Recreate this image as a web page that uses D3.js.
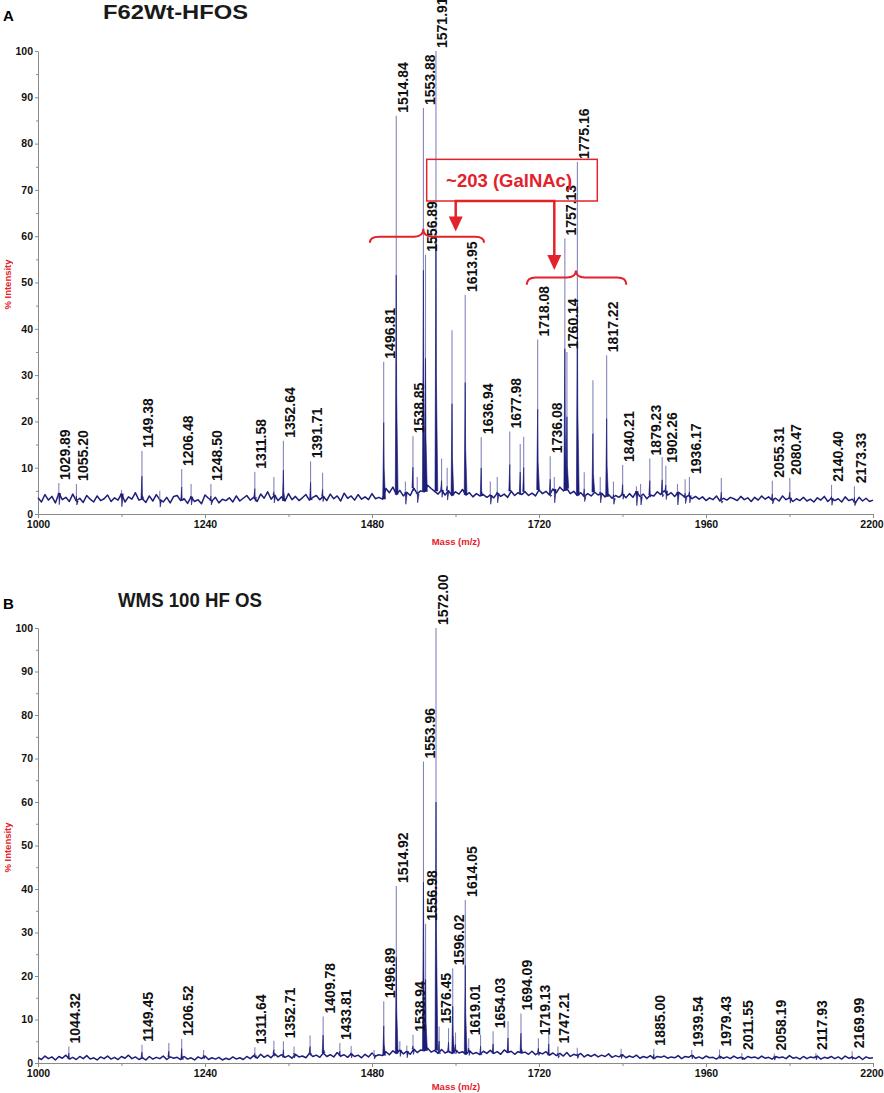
<!DOCTYPE html>
<html>
<head>
<meta charset="utf-8">
<script src="https://cdn.jsdelivr.net/npm/d3@7"></script>
<style>
body { margin: 0; background: #fff; }
text { font-family: "Liberation Sans", Arial, sans-serif; font-weight: bold; }
</style>
</head>
<body>
<script>
// axis ticks
const massTicks = [1000, 1240, 1480, 1720, 1960, 2200];
const massMinor = [1120, 1360, 1600, 1840, 2080];
const intensityTicks = [0, 10, 20, 30, 40, 50, 60, 70, 80, 90, 100];
const intensityMinor = [5, 15, 25, 35, 45, 55, 65, 75, 85, 95];

// baseline noise, read every 5 m/z from 1000 to 2200
const baseStart = 1000, baseStep = 5;
const baselineA = [
  3.5,2.6,4.2,3.0,3.8,2.4,4.5,3.1,3.6,2.7,
  4.3,2.8,3.4,2.5,4.0,3.2,2.6,3.9,2.9,3.3,
  4.1,2.7,3.5,3.0,4.4,2.6,3.7,3.2,4.6,3.0,
  3.3,2.5,3.9,2.8,4.2,3.1,2.6,3.6,2.4,3.8,
  4.0,2.9,3.3,2.3,3.7,2.7,3.1,2.2,4.1,3.4,
  2.8,3.6,2.4,3.2,2.9,3.5,2.6,3.9,2.8,3.4,
  4.0,3.0,3.6,2.7,4.3,3.4,4.8,3.2,4.1,2.9,
  3.7,2.8,4.4,3.1,3.8,2.9,3.5,4.2,3.0,3.6,
  4.0,3.1,3.8,2.9,4.3,3.3,3.9,2.8,4.5,3.4,
  3.9,3.0,4.2,3.2,3.7,3.1,4.4,3.3,3.6,3.2,
  5.5,4.6,5.8,4.2,5.1,3.9,4.7,4.0,5.6,4.4,
  5.0,4.8,6.2,5.5,4.9,4.3,5.2,4.1,5.0,4.0,
  4.8,4.3,5.3,4.1,4.6,3.7,4.4,3.9,4.2,3.6,
  4.1,3.5,4.5,3.8,4.3,3.6,4.9,4.0,4.6,4.2,
  4.8,4.0,4.5,3.9,5.2,4.4,4.9,4.1,5.4,4.6,
  5.8,5.0,5.5,4.4,4.9,4.0,4.6,3.8,4.4,3.9,
  4.7,4.1,4.5,3.7,4.2,3.4,4.0,3.6,4.3,3.5,
  4.4,3.6,4.9,3.8,4.3,3.3,4.1,3.9,4.8,4.2,
  5.0,4.1,4.6,3.8,4.7,4.2,3.6,4.0,3.3,3.8,
  3.2,3.7,2.9,3.5,3.1,3.9,2.8,3.4,3.0,3.6,
  3.3,2.9,3.8,3.1,3.5,2.7,3.6,3.0,3.9,3.2,
  3.7,3.0,3.4,2.8,3.9,3.1,3.5,2.7,3.3,2.9,
  3.6,2.8,3.2,2.6,3.5,3.0,3.8,2.7,3.4,2.9,
  3.3,2.6,3.7,2.9,3.2,2.5,3.6,2.8,3.4,2.7,
  3.0
];
const baselineB = [
  1.2,0.8,1.6,1.0,1.4,0.7,1.5,1.1,1.8,0.9,
  1.3,0.8,1.5,1.0,1.7,0.9,1.2,0.7,1.4,1.0,
  1.6,0.9,1.3,0.8,1.5,1.1,1.8,1.0,1.4,0.8,
  1.2,0.7,1.5,0.9,1.3,1.0,1.6,0.8,1.4,1.1,
  1.3,0.8,1.5,0.9,1.2,0.7,1.4,1.0,1.6,0.8,
  1.2,0.9,1.3,0.7,1.1,0.8,1.4,0.9,1.2,0.8,
  1.5,1.0,1.7,1.1,2.0,1.3,1.8,1.2,2.1,1.4,
  1.9,1.3,1.7,1.1,2.0,1.4,1.6,1.2,2.2,1.5,
  1.8,1.3,2.3,1.5,1.9,1.4,2.4,1.6,1.9,1.3,
  2.1,1.5,1.8,1.2,2.0,1.4,2.3,1.6,1.9,1.7,
  2.6,1.9,2.8,2.2,3.0,2.1,2.7,2.0,3.2,2.4,
  3.0,2.8,3.4,2.5,2.9,2.2,3.1,2.3,2.7,2.2,
  3.0,2.3,2.6,2.0,2.8,2.1,2.4,1.9,2.7,2.2,
  2.9,2.2,2.6,2.0,3.0,2.4,2.7,2.0,2.6,2.3,
  2.5,2.0,2.7,1.9,2.4,2.1,2.6,1.8,2.3,1.7,
  2.2,1.6,2.4,1.5,2.0,1.7,2.2,1.4,1.9,1.5,
  2.0,1.4,1.8,1.5,2.1,1.3,1.7,1.4,1.9,1.2,
  1.6,1.3,1.8,1.1,1.5,1.2,1.7,1.0,1.5,1.3,
  1.6,1.1,1.4,1.2,1.7,1.0,1.5,1.3,1.8,1.1,
  1.4,1.0,1.6,1.2,1.3,0.9,1.5,1.1,1.4,1.0,
  1.6,1.1,1.3,0.9,1.5,1.2,1.4,1.0,1.6,1.1,
  1.3,0.9,1.5,1.2,1.4,1.0,1.7,1.1,1.3,0.9,
  1.5,1.0,1.4,1.2,1.6,0.9,1.3,1.1,1.5,1.0,
  1.4,0.9,1.6,1.1,1.3,1.0,1.5,0.8,1.4,1.1,
  1.2
];

// labelled peaks [m/z, % intensity]
const peaksA = [
  [1029.89,6.7],[1055.20,6.5],[1149.38,13.6],[1206.48,9.7],[1248.50,6.5],
  [1311.58,9.1],[1352.64,15.8],[1391.71,11.4],[1496.81,32.9],[1514.84,86],
  [1538.85,16.8],[1553.88,87.7],[1556.89,56],[1571.91,100],[1613.95,47.3],
  [1636.94,16.6],[1677.98,17.8],[1718.08,37.7],[1736.08,12.5],[1757.13,59.5],
  [1760.14,35],[1775.16,76],[1817.22,34.3],[1840.21,10.6],[1879.23,12],
  [1902.26,10.4],[1936.17,8],[2055.31,7.2],[2080.47,7.8],[2140.40,6.3],[2173.33,6]
];
// unlabelled peaks
const minorA = [
  [1120,5.2],[1175,5],[1220,6.5],[1339,8],[1409,8.9],[1528,7],[1545,8],
  [1580,12],[1588,10],[1595,39.7],[1650,7],[1660,8],[1693,15.1],[1698,16.7],
  [1742,8],[1785,9],[1797.5,28.9],[1808,8],[1827,7],[1860,6],[1866,6.5],
  [1897,12.3],[1919,6.5],[1930,7.5],[1982,7.8]
];
const peaksB = [
  [1044.32,3.8],[1149.45,4.2],[1206.52,5.5],[1311.64,3.6],[1352.71,5],
  [1409.78,10.7],[1433.81,4.6],[1496.89,14.2],[1514.92,40.7],[1538.94,6.5],
  [1553.96,69.3],[1556.98,32],[1572.00,100],[1576.45,8.4],[1596.02,21.8],
  [1614.05,37.5],[1619.01,5.7],[1654.03,7.3],[1694.09,11.4],[1719.13,5.7],
  [1747.21,3.8],[1885.00,3.3],[1939.54,3],[1979.43,3.1],[2011.55,2.3],
  [2058.19,2.2],[2117.93,2.3],[2169.99,2.7]
];
const minorB = [
  [1188,4.6],[1238,3],[1339,5.1],[1368,3.8],[1391,6.3],[1450,3.9],[1483,3],
  [1520,5],[1530,4],[1590,8],[1600,7],[1636,6.5],[1675.5,9.6],[1734,7.3],
  [1775,3.5],[1838,3.3]
];

const panels = [
  { id: "A", title: "F62Wt-HFOS", base: baselineA, peaks: peaksA, minor: minorA,
    yRange: [514, 51], titleX: 103, titleY: 19, titleW: 145, idY: 21, massY: 31 },
  { id: "B", title: "WMS 100 HF OS", base: baselineB, peaks: peaksB, minor: minorB,
    yRange: [1063, 628], titleX: 118, titleY: 607, titleW: 144, idY: 609, massY: 27 }
];

const navy = "#1d1d7a", lightNavy = "#8585bd", red = "#e3222b", grey = "#8a8a8a";

const svg = d3.select("body").append("svg")
  .attr("width", 884).attr("height", 1093);

const x = d3.scaleLinear().domain([1000, 2200]).range([38, 873]);

panels.forEach(p => {
  const y = d3.scaleLinear().domain([0, 100]).range(p.yRange);
  const g = svg.append("g");

  // panel letter and title
  g.append("text").attr("x", 3).attr("y", p.idY)
    .attr("font-size", 15).text(p.id);
  g.append("text").attr("x", p.titleX).attr("y", p.titleY)
    .attr("font-size", 21).attr("textLength", p.titleW)
    .attr("lengthAdjust", "spacingAndGlyphs").attr("fill", "#1a1a1a").text(p.title);

  // y axis
  g.append("g").attr("transform", "translate(38,0)")
    .call(d3.axisLeft(y).tickValues(intensityTicks).tickSize(3).tickPadding(2).tickSizeOuter(0));
  g.append("g").attr("transform", "translate(38,0)")
    .call(d3.axisLeft(y).tickValues(intensityMinor).tickSize(2).tickFormat("").tickSizeOuter(0))
    .select(".domain").remove();

  // x axis
  const x0 = p.yRange[0];
  const xa = g.append("g").attr("transform", `translate(0,${x0})`)
    .call(d3.axisBottom(x).tickValues(massTicks).tickFormat(d3.format("d"))
      .tickSize(4).tickPadding(3).tickSizeOuter(0));
  g.append("g").attr("transform", `translate(0,${x0})`)
    .call(d3.axisBottom(x).tickValues(massMinor).tickSize(3).tickFormat("").tickSizeOuter(0))
    .select(".domain").remove();

  g.selectAll(".domain").attr("stroke", grey);
  g.selectAll(".tick line").attr("stroke", grey);
  g.selectAll(".tick text").attr("font-size", 10.5)
    .attr("font-family", "'Liberation Sans', Arial, sans-serif")
    .attr("font-weight", "bold").attr("fill", "#111");
  // keep the last mass label inside the picture
  xa.selectAll(".tick text").filter(d => d === 2200).attr("dx", -1.5);

  // axis titles
  g.append("text").attr("x", 456).attr("y", x0 + p.massY)
    .attr("text-anchor", "middle").attr("font-size", 9.5).attr("fill", red)
    .text("Mass (m/z)");
  g.append("text")
    .attr("transform", `translate(11,${(p.yRange[0] + p.yRange[1]) / 2 + 2}) rotate(-90)`)
    .attr("text-anchor", "middle").attr("font-size", 9.5).attr("fill", red)
    .text("% Intensity");

  // noise trace
  const line = d3.line().x(d => x(d[0])).y(d => y(d[1]));
  const noise = p.base.map((v, i) => [baseStart + i * baseStep, v]);
  g.append("path").datum(noise).attr("d", line)
    .attr("fill", "none").attr("stroke", navy).attr("stroke-width", 1.5)
    .attr("stroke-linejoin", "round");

  // peaks: thin light tip, dark body
  const baseAt = mz => p.base[Math.round((mz - baseStart) / baseStep)];
  const allPeaks = p.peaks.concat(p.minor);
  g.selectAll("line.tip").data(allPeaks).join("line")
    .attr("class", "tip")
    .attr("x1", d => x(d[0])).attr("x2", d => x(d[0]))
    .attr("y1", d => y(baseAt(d[0]))).attr("y2", d => y(d[1]))
    .attr("stroke", lightNavy).attr("stroke-width", 1.1);
  g.selectAll("path.peak").data(allPeaks).join("path")
    .attr("class", "peak")
    .attr("d", d => line([[d[0] - 1.4, baseAt(d[0])], [d[0], d[1] * 0.6],
      [d[0] + 0.6, d[1] * 0.3], [d[0] + 2.6, baseAt(d[0])]]))
    .attr("fill", navy).attr("stroke", navy).attr("stroke-width", 0.6);

  // peak labels
  g.selectAll("text.pl").data(p.peaks).join("text")
    .attr("class", "pl")
    .attr("transform", d => `translate(${x(d[0]) + 11.5},${y(d[1]) - 3}) rotate(-90)`)
    .attr("font-size", 14).attr("fill", "#111")
    .text(d => d[0].toFixed(2));

  if (p.id === "A") {
    const a = g.append("g").attr("fill", "none").attr("stroke", red);
    // label box
    a.append("rect").attr("x", x(1558.6)).attr("y", y(76.6))
      .attr("width", x(1803.8) - x(1558.6)).attr("height", y(67.6) - y(76.6))
      .attr("stroke-width", 1.5);
    g.append("text").attr("x", x(1677)).attr("y", y(70.6))
      .attr("text-anchor", "middle").attr("font-size", 18.5).attr("fill", red)
      .text("~203 (GalNAc)");
    // connector and arrows
    const top = y(67.6);
    a.append("path").attr("stroke-width", 2.5)
      .attr("d", `M${x(1600.3)},${y(61) - 13}V${top}H${x(1742)}V${y(52.7) - 13}`);
    [[1600.3, 61], [1742, 52.7]].forEach(t => {
      const tx = x(t[0]), ty = y(t[1]);
      g.append("path").attr("fill", red)
        .attr("d", `M${tx - 7},${ty - 15}L${tx + 7},${ty - 15}L${tx},${ty}Z`);
    });
    // braces
    const brace = (m0, m1, mt, yFlat, yEnd, yTip) => {
      const x0b = x(m0), x1b = x(m1), xt = x(mt);
      const yf = y(yFlat), ye = y(yEnd), yt = y(yTip), r = 9;
      return `M${x0b},${ye}Q${x0b},${yf} ${x0b + r},${yf}L${xt - r},${yf}` +
        `Q${xt},${yf} ${xt},${yt}Q${xt},${yf} ${xt + r},${yf}` +
        `L${x1b - r},${yf}Q${x1b},${yf} ${x1b},${ye}`;
    };
    a.append("path").attr("stroke-width", 2).attr("d", brace(1477, 1641, 1553.7, 59.9, 58.6, 61.6));
    a.append("path").attr("stroke-width", 2).attr("d", brace(1702.4, 1845.5, 1773, 51.1, 49.5, 52.6));
  }
});
</script>
</body>
</html>
